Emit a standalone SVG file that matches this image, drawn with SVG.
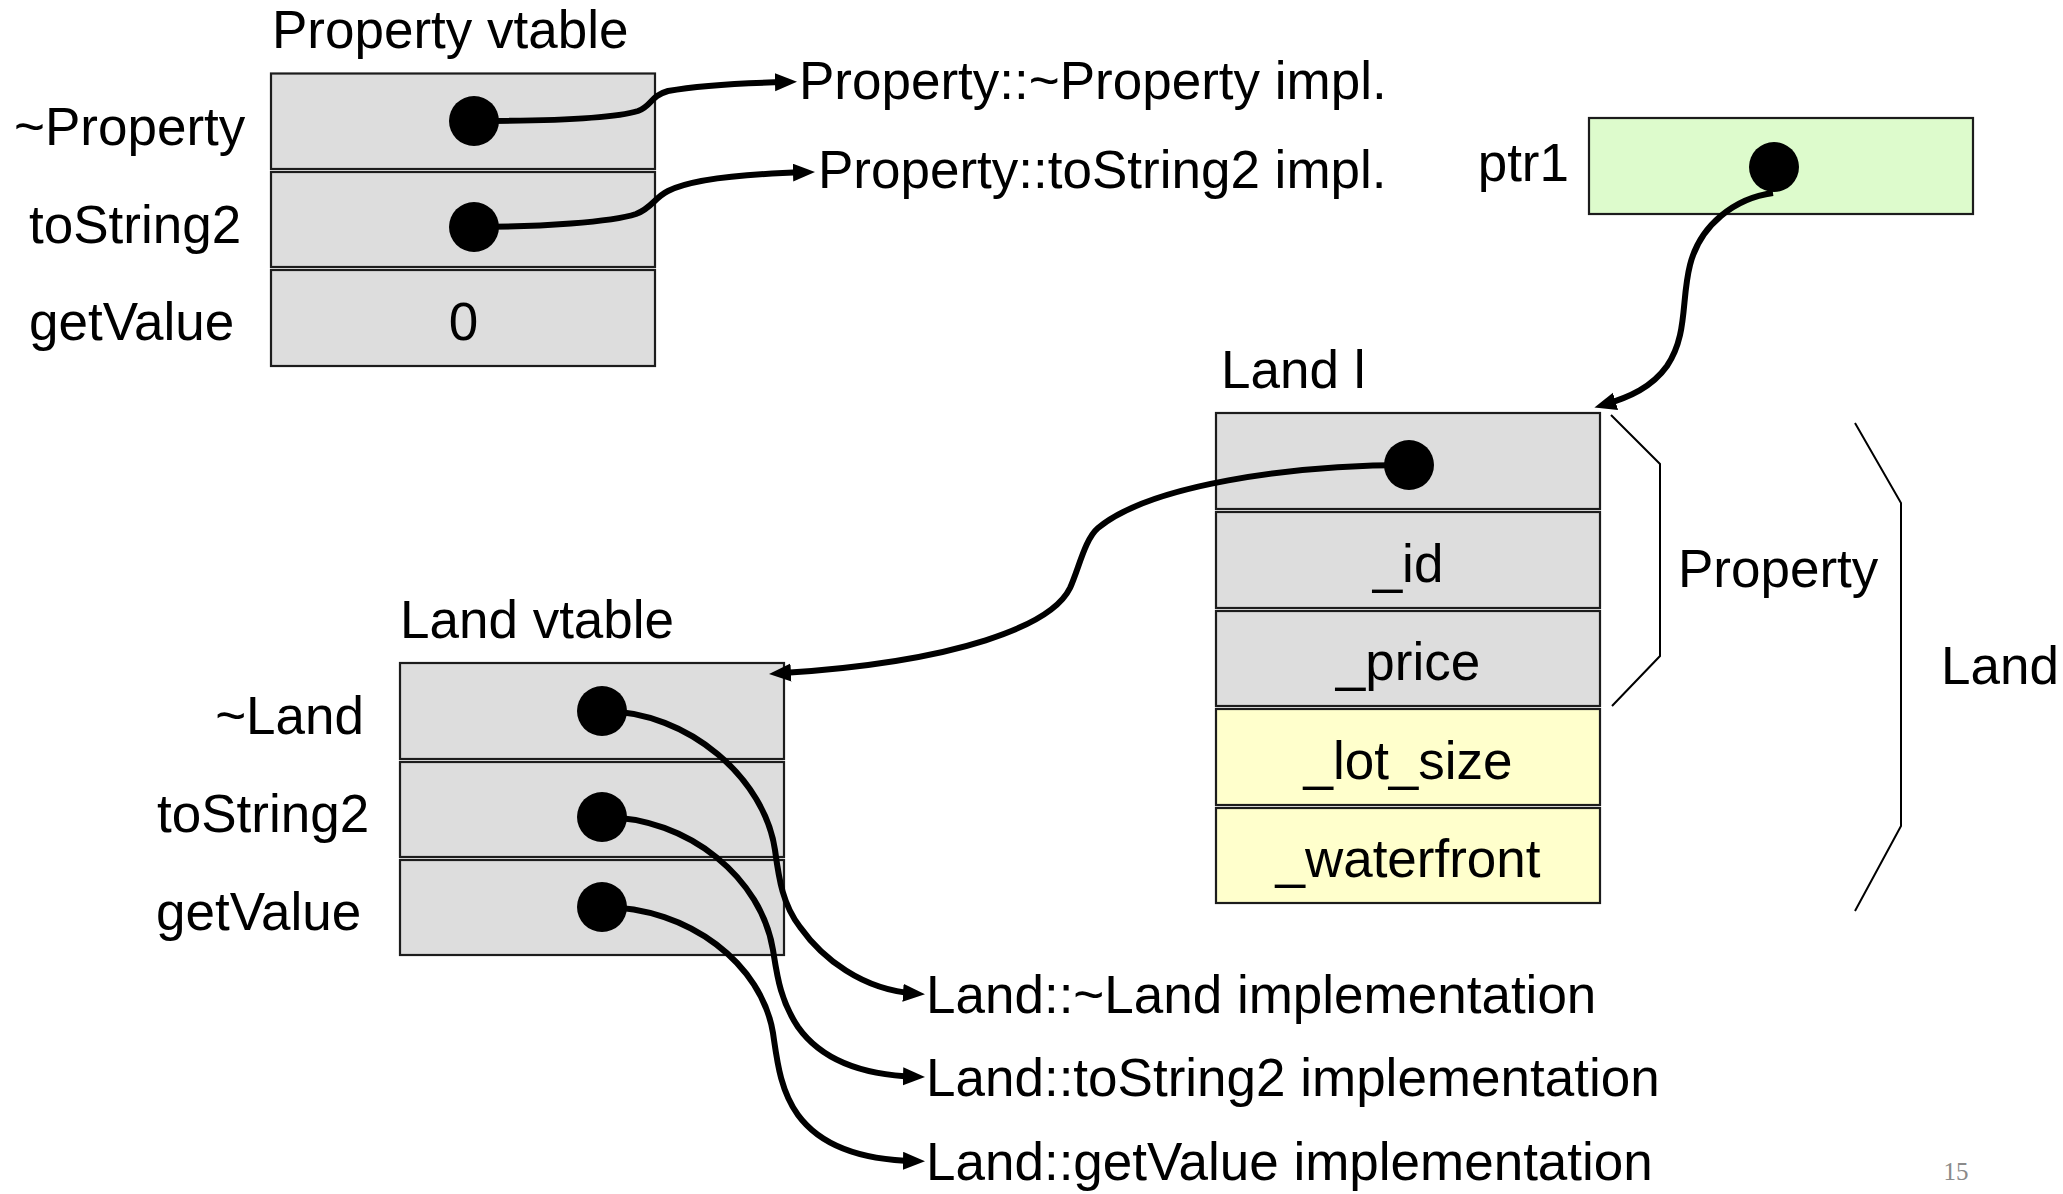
<svg xmlns="http://www.w3.org/2000/svg" width="2063" height="1194" viewBox="0 0 2063 1194">
<style>
text{font-family:"Liberation Sans",Arial,sans-serif;font-size:53px;fill:#000}
.mid{text-anchor:middle}
.end{text-anchor:end}
.cell{stroke:#1c1c1c;stroke-width:2.2}
.gray{fill:#dddddd}
.yel{fill:#ffffcc}
.grn{fill:#ddfbcc}
.dot{fill:#000}
.con{fill:none;stroke:#000;stroke-width:6;marker-end:url(#ah)}
.brk{fill:none;stroke:#000;stroke-width:2}
.pg{font-family:"Liberation Serif","Times New Roman",serif;font-size:25px;fill:#8a8a8a}
</style>
<defs>
<marker id="ah" markerUnits="userSpaceOnUse" markerWidth="24" markerHeight="20" refX="12" refY="9" orient="auto">
<path d="M0,0 L22,9 L0,18 z" fill="#000"/>
</marker>
</defs>
<rect width="2063" height="1194" fill="#fff"/>

<g id="property-vtable">
<text x="272" y="48">Property vtable</text>
<rect class="cell gray" x="271" y="73.5" width="384" height="95.5"/>
<rect class="cell gray" x="271" y="172" width="384" height="95"/>
<rect class="cell gray" x="271" y="270" width="384" height="96"/>
<text x="14" y="145">~Property</text>
<text x="29" y="243">toString2</text>
<text x="29" y="340">getValue</text>
<text class="mid" x="463.5" y="340">0</text>
<circle class="dot" cx="474" cy="121" r="25"/>
<circle class="dot" cx="474" cy="227" r="25"/>
</g>

<g id="property-impls">
<text x="799" y="99">Property::~Property impl.</text>
<text x="818" y="188">Property::toString2 impl.</text>
</g>

<g id="ptr1">
<text class="end" x="1569" y="181">ptr1</text>
<rect class="cell grn" x="1589" y="118" width="384" height="96"/>
<circle class="dot" cx="1774" cy="167" r="25"/>
</g>

<g id="land-object">
<text x="1221" y="388">Land l</text>
<rect class="cell gray" x="1216" y="413" width="384" height="96"/>
<rect class="cell gray" x="1216" y="512" width="384" height="96"/>
<rect class="cell gray" x="1216" y="611" width="384" height="95"/>
<rect class="cell yel" x="1216" y="709" width="384" height="96"/>
<rect class="cell yel" x="1216" y="808" width="384" height="95"/>
<circle class="dot" cx="1409" cy="465" r="25"/>
<text class="mid" x="1408" y="582">_id</text>
<text class="mid" x="1408" y="680">_price</text>
<text class="mid" x="1408" y="779">_lot_size</text>
<text class="mid" x="1408" y="877">_waterfront</text>
</g>

<g id="brackets">
<path class="brk" d="M1611,415 L1660,464 L1660,656 L1612,706"/>
<text x="1678" y="587">Property</text>
<path class="brk" d="M1855,423 L1901,503 L1901,826 L1855,911"/>
<text x="1941" y="684">Land</text>
</g>

<g id="land-vtable">
<text x="400" y="638">Land vtable</text>
<rect class="cell gray" x="400" y="663" width="384" height="96"/>
<rect class="cell gray" x="400" y="762" width="384" height="95"/>
<rect class="cell gray" x="400" y="860" width="384" height="95"/>
<text class="end" x="364" y="734">~Land</text>
<text x="157" y="832">toString2</text>
<text x="156" y="930">getValue</text>
<circle class="dot" cx="602" cy="711" r="25"/>
<circle class="dot" cx="602" cy="817" r="25"/>
<circle class="dot" cx="602" cy="907" r="25"/>
</g>

<g id="land-impls">
<text x="926" y="1013">Land::~Land implementation</text>
<text x="926" y="1096">Land::toString2 implementation</text>
<text x="926" y="1180">Land::getValue implementation</text>
</g>

<g id="connectors">
<path class="con" d="M474,121 C540,121 612,119 638,111 C652,106 650,96 668,91 C700,85 740,83 787,82"/>
<path class="con" d="M474,227 C540,227 612,222 636,214 C652,208 654,198 668,191 C690,180 740,174 805,172.3"/>
<path class="con" d="M1773,193 C1735,198 1700,225 1690,265 C1681,300 1688,335 1667,366 C1652,387 1630,397 1604,404.7"/>
<path class="con" d="M1409,465 C1290,465 1150,485 1098,528 C1085,539 1079,568 1070,588 C1052,625 960,662 779,673.3"/>
<path class="con" d="M602,711 C690,711 765,780 775,850 C779,880 783,905 800,927 C822,958 862,990 915,993.6"/>
<path class="con" d="M602,817 C690,817 762,880 773,950 C777,975 780,1000 798,1027 C820,1058 860,1075 915,1076.7"/>
<path class="con" d="M602,907 C690,907 762,965 773,1033 C777,1060 780,1090 798,1115 C820,1145 860,1160 915,1161"/>
</g>

<text class="pg mid" x="1956" y="1180">15</text>
</svg>
